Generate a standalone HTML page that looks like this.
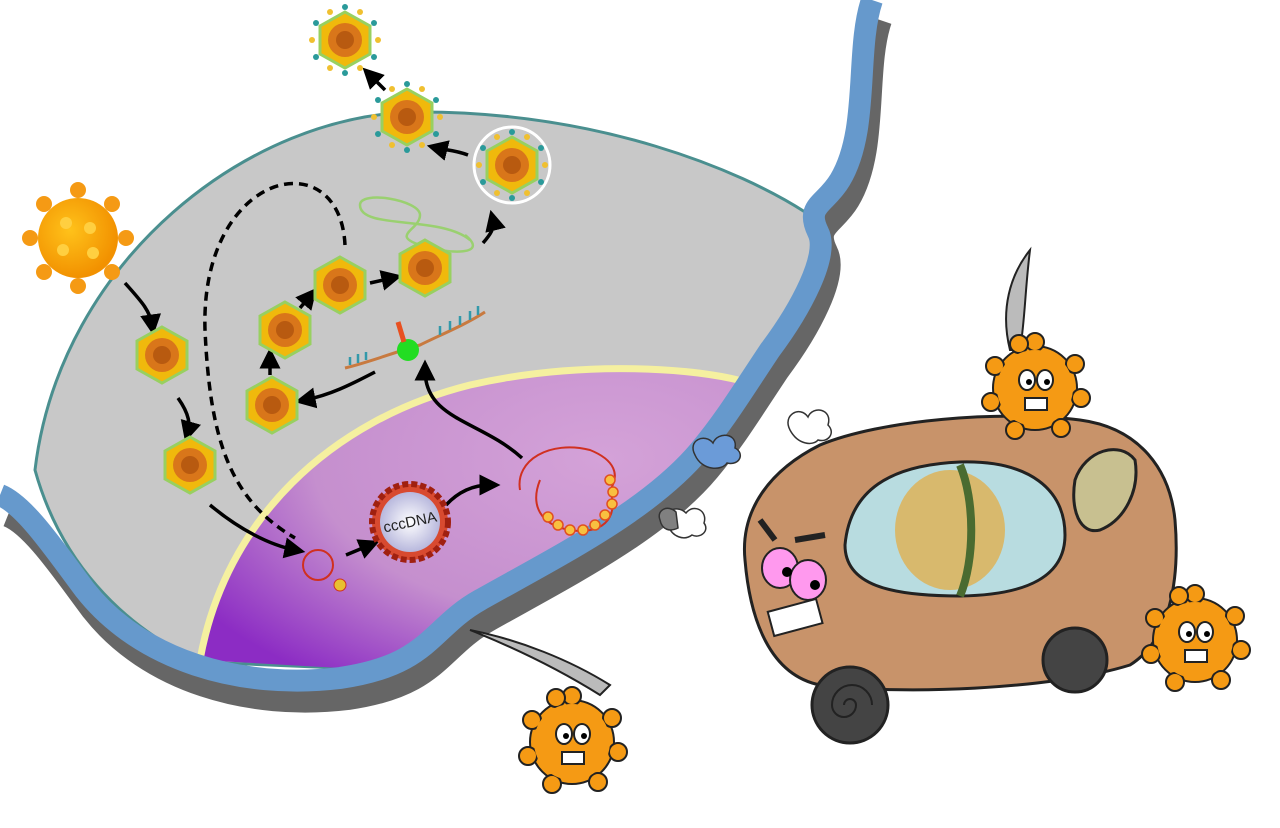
<!DOCTYPE html>
<html><head><meta charset="utf-8"><style>
html,body{margin:0;padding:0;background:#fff;}
svg{display:block;}
</style></head><body>
<svg width="1280" height="828" viewBox="0 0 1280 828" xmlns="http://www.w3.org/2000/svg" font-family="Liberation Sans, sans-serif">
<defs>
<radialGradient id="nuc" cx="0.75" cy="0.3" r="0.9">
<stop offset="0" stop-color="#d4a2d8"/><stop offset="0.6" stop-color="#c58fce"/><stop offset="1" stop-color="#8c2cc4"/>
</radialGradient>
<radialGradient id="ccc" cx="0.5" cy="0.5" r="0.5"><stop offset="0" stop-color="#fff"/><stop offset="1" stop-color="#b8b8dd"/></radialGradient>
<radialGradient id="orb" cx="0.4" cy="0.4" r="0.6"><stop offset="0" stop-color="#ffc21a"/><stop offset="1" stop-color="#f29100"/></radialGradient>
<marker id="ah" markerWidth="6" markerHeight="6" refX="3" refY="3" orient="auto"><path d="M0,0 L6,3 L0,6 Z" fill="#000"/></marker>
<g id="hex"><polygon points="0,-28 25,-14 25,14 0,28 -25,14 -25,-14" fill="#f0b90c" stroke="#98d060" stroke-width="3"/><circle r="17" fill="#d9761a"/><circle r="9" fill="#b85a10"/></g>
<g id="vir"><use href="#hex"/><g fill="#2a9a9a"><circle cx="0" cy="-33" r="3"/><circle cx="29" cy="-17" r="3"/><circle cx="29" cy="17" r="3"/><circle cx="0" cy="33" r="3"/><circle cx="-29" cy="17" r="3"/><circle cx="-29" cy="-17" r="3"/></g><g fill="#f0c030"><circle cx="15" cy="-28" r="3"/><circle cx="33" cy="0" r="3"/><circle cx="15" cy="28" r="3"/><circle cx="-15" cy="28" r="3"/><circle cx="-33" cy="0" r="3"/><circle cx="-15" cy="-28" r="3"/></g></g>
<g id="mon"><circle r="42" fill="#f59a14" stroke="#222" stroke-width="2"/><g fill="#f59a14" stroke="#222" stroke-width="2"><circle cx="0" cy="-46" r="9"/><circle cx="40" cy="-24" r="9"/><circle cx="46" cy="10" r="9"/><circle cx="26" cy="40" r="9"/><circle cx="-20" cy="42" r="9"/><circle cx="-44" cy="14" r="9"/><circle cx="-40" cy="-22" r="9"/><circle cx="-16" cy="-44" r="9"/></g><circle r="38" fill="#f59a14"/><ellipse cx="-8" cy="-8" rx="8" ry="10" fill="#fff" stroke="#222" stroke-width="2"/><ellipse cx="10" cy="-8" rx="8" ry="10" fill="#fff" stroke="#222" stroke-width="2"/><circle cx="-6" cy="-6" r="3"/><circle cx="12" cy="-6" r="3"/><rect x="-10" y="10" width="22" height="12" fill="#fff" stroke="#222" stroke-width="2"/></g>
<path id="mem" d="M872,0 C855,50 870,130 840,180 C825,205 805,205 818,232 C830,255 800,310 770,350 C740,395 725,420 700,450 C650,510 560,555 480,600 C430,628 430,665 340,678 C240,690 140,660 85,590 C55,550 25,505 0,495"/>
</defs>

<use href="#mem" fill="none" stroke="#666" stroke-width="24" transform="translate(8,20)"/>
<!-- cell -->
<path d="M35,470 C60,260 250,112 420,112 C600,112 740,170 805,212 C812,220 815,226 818,232 C830,255 800,310 770,350 C740,395 725,420 700,450 C650,510 555,560 470,600 C425,625 420,660 340,668 L200,662 C120,625 60,560 35,470 Z" fill="#c8c8c8" stroke="#4a8f8f" stroke-width="3"/>
<!-- nucleus -->
<path d="M200,660 C225,520 330,420 470,385 C570,362 680,366 738,380 C725,415 715,430 700,450 C650,510 555,560 470,600 C425,625 420,660 340,668 Z" fill="url(#nuc)"/>
<path d="M200,660 C225,520 330,420 470,385 C570,362 680,366 738,380" fill="none" stroke="#f5f0a0" stroke-width="7"/>
<use href="#mem" fill="none" stroke="#6699cc" stroke-width="22"/>

<!-- incoming virus -->
<g transform="translate(78,238)"><g fill="#f59a14"><circle cx="0" cy="-48" r="8"/><circle cx="34" cy="-34" r="8"/><circle cx="48" cy="0" r="8"/><circle cx="34" cy="34" r="8"/><circle cx="0" cy="48" r="8"/><circle cx="-34" cy="34" r="8"/><circle cx="-48" cy="0" r="8"/><circle cx="-34" cy="-34" r="8"/></g><circle r="40" fill="url(#orb)"/><g fill="#ffcf40"><circle cx="-12" cy="-15" r="6"/><circle cx="12" cy="-10" r="6"/><circle cx="-15" cy="12" r="6"/><circle cx="15" cy="15" r="6"/></g></g>

<g fill="none" stroke="#000" stroke-width="3.5" marker-end="url(#ah)">
<path d="M125,283 C140,300 150,310 152,325"/>
<path d="M178,398 C190,415 190,425 188,432"/>
<path d="M210,505 C240,530 270,545 295,550"/>
<path d="M346,555 L370,545"/>
<path d="M446,505 C460,490 475,485 490,485"/>
<path d="M522,458 C480,420 425,420 425,370"/>
<path d="M375,372 C350,385 330,395 305,400"/>
<path d="M270,375 L270,358"/>
<path d="M300,308 L310,296"/>
<path d="M370,283 L392,278"/>
<path d="M483,243 C490,235 495,228 493,220"/>
<path d="M468,155 C455,150 445,150 437,148"/>
<path d="M385,90 L370,75"/>
</g>
<path d="M345,245 C340,140 200,170 205,330 C210,440 230,500 295,538" fill="none" stroke="#000" stroke-width="3.5" stroke-dasharray="9,6"/>
<path d="M470,240 C440,215 360,230 360,205 C360,190 420,200 420,215 C420,230 390,235 420,245 C450,255 490,255 465,235" fill="none" stroke="#9ad070" stroke-width="2.5"/>
<path d="M345,368 C370,362 395,352 420,345 C440,335 465,325 485,312" fill="none" stroke="#c87a40" stroke-width="3"/>
<path d="M350,365 l0,-8 M358,363 l0,-9 M366,360 l0,-8 M440,335 l0,-9 M450,330 l0,-9 M460,325 l0,-9 M470,320 l0,-9 M478,315 l0,-9" stroke="#39a" stroke-width="2.5"/>
<circle cx="408" cy="350" r="11" fill="#22dd22"/>
<path d="M404,342 L398,322" stroke="#e85020" stroke-width="5"/>

<use href="#hex" x="162" y="355"/>
<use href="#hex" x="190" y="465"/>
<use href="#hex" x="272" y="405"/>
<use href="#hex" x="285" y="330"/>
<use href="#hex" x="340" y="285"/>
<use href="#hex" x="425" y="268"/>
<circle cx="512" cy="165" r="38" fill="#c8c8c8" stroke="#fff" stroke-width="3"/>
<use href="#vir" x="512" y="165"/>
<use href="#vir" x="407" y="117"/>
<use href="#vir" x="345" y="40"/>

<circle cx="318" cy="565" r="15" fill="none" stroke="#d03020" stroke-width="2"/>
<circle cx="340" cy="585" r="6" fill="#e8c030" stroke="#d03020"/>
<circle cx="410" cy="522" r="38" fill="#d84a30" stroke="#a02010" stroke-width="6" stroke-dasharray="6,3"/>
<circle cx="410" cy="522" r="30" fill="url(#ccc)"/>
<text x="410" y="527" font-size="15" text-anchor="middle" transform="rotate(-12 410 522)" fill="#222">cccDNA</text>
<path d="M520,490 C515,460 550,440 590,450 C615,460 620,475 610,490 C620,520 600,535 570,530 C540,525 530,505 540,480" fill="none" stroke="#d03020" stroke-width="2"/>
<g fill="#f8c040" stroke="#e05020" stroke-width="1.5"><circle cx="610" cy="480" r="5"/><circle cx="613" cy="492" r="5"/><circle cx="612" cy="504" r="5"/><circle cx="605" cy="515" r="5"/><circle cx="595" cy="525" r="5"/><circle cx="583" cy="530" r="5"/><circle cx="570" cy="530" r="5"/><circle cx="558" cy="525" r="5"/><circle cx="548" cy="517" r="5"/></g>

<path d="M695,455 c-8,-15 10,-22 18,-12 c5,-12 25,-10 22,5 c10,5 5,18 -8,15 c-5,8 -25,8 -32,-8z" fill="#6b9bd8" stroke="#333" stroke-width="1.5"/>
<g fill="#fff" stroke="#333" stroke-width="1.5"><path d="M790,430 c-8,-15 10,-25 18,-13 c5,-12 25,-8 20,8 c8,8 0,18 -10,15 c-5,6 -20,5 -28,-10z"/><path d="M668,525 c-8,-12 8,-22 18,-12 c8,-10 22,-2 18,10 c6,8 -4,16 -12,12 c-8,6 -20,2 -24,-10z"/></g>
<path d="M660,520 c-4,-10 8,-16 16,-8 l2,16 c-8,4 -16,2 -18,-8z" fill="#808080" stroke="#333" stroke-width="1.5"/>

<path d="M745,560 C740,510 770,470 820,445 C880,420 1000,410 1080,420 C1140,428 1170,470 1175,520 C1180,580 1170,640 1130,665 C1050,690 900,695 820,685 C770,675 750,620 745,560 Z" fill="#c8936a" stroke="#222" stroke-width="3"/>
<path d="M845,545 C850,490 890,465 960,462 C1030,460 1065,490 1065,535 C1065,575 1030,595 960,596 C890,596 845,585 845,545 Z" fill="#b8dce0" stroke="#222" stroke-width="3"/>
<ellipse cx="950" cy="530" rx="55" ry="60" fill="#e0b050" opacity="0.8"/>
<path d="M960,465 C975,500 975,560 960,596" stroke="#4a6b30" stroke-width="8" fill="none"/>
<path d="M1075,480 C1085,450 1120,440 1135,460 C1140,490 1125,520 1100,530 C1080,535 1070,510 1075,480Z" fill="#c8c090" stroke="#222" stroke-width="3"/>
<ellipse cx="780" cy="568" rx="18" ry="20" fill="#ff99ee" stroke="#222" stroke-width="2"/>
<ellipse cx="808" cy="580" rx="18" ry="20" fill="#ff99ee" stroke="#222" stroke-width="2"/>
<circle cx="787" cy="572" r="5"/><circle cx="815" cy="585" r="5"/>
<path d="M760,520 l15,20 M795,540 l30,-5" stroke="#222" stroke-width="6"/>
<rect x="770" y="605" width="50" height="25" fill="#fff" stroke="#222" stroke-width="2" transform="rotate(-15 795 617)"/>
<circle cx="850" cy="705" r="38" fill="#444" stroke="#222" stroke-width="3"/>
<circle cx="1075" cy="660" r="32" fill="#444" stroke="#222" stroke-width="3"/>
<path d="M850,705 m-6,0 a6,6 0 1,1 12,0 a12,12 0 1,1 -24,0 a20,20 0 1,1 40,0" fill="none" stroke="#222" stroke-width="2"/>

<path d="M1010,350 C1000,310 1010,275 1030,250 C1025,290 1025,320 1020,350Z" fill="#bbb" stroke="#222" stroke-width="2"/>
<use href="#mon" x="1035" y="388"/>
<use href="#mon" x="1195" y="640"/>
<path d="M470,630 C520,640 570,660 610,685 L600,695 C560,670 520,650 470,630Z" fill="#bbb" stroke="#222" stroke-width="2"/>
<use href="#mon" x="572" y="742"/>
</svg>
</body></html>
